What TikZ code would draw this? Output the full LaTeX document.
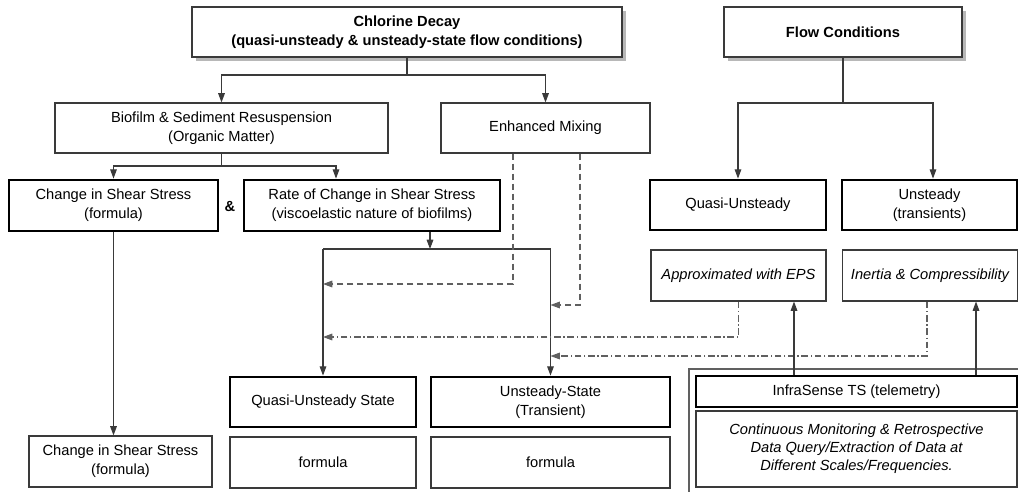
\documentclass[tikz,border=0pt]{standalone}
\usepackage{fontspec}
\setmainfont{Liberation Sans}
\usetikzlibrary{arrows.meta,shadows,calc}
\definecolor{ln}{HTML}{3A3A3A}
\definecolor{dsh}{HTML}{606060}
\begin{document}
\begin{tikzpicture}[x=0.75pt,y=-0.75pt,
  font=\fontsize{11}{14}\selectfont,
  box/.style={draw=ln,line width=0.8pt,rectangle,inner sep=0pt,align=center,fill=white},
  thickbox/.style={draw=black,line width=2.1pt,rectangle,inner sep=0pt,align=center,fill=white},
  shad/.style={drop shadow={shadow xshift=3pt,shadow yshift=-3pt,fill=black!28,opacity=1}},
  conn/.style={draw=ln,line width=0.8pt},
  arr/.style={conn,-{Triangle[length=7pt,width=5pt]}},
  dsharr/.style={draw=dsh,line width=0.8pt,dash pattern=on 4.5pt off 3pt,-{Triangle[length=7pt,width=5pt]}},
  ddarr/.style={draw=dsh,line width=0.8pt,dash pattern=on 5pt off 2pt on 1pt off 2pt,-{Triangle[length=7pt,width=5pt]}},
]
\useasboundingbox (0,0) rectangle (1018,492);
\begin{scope}
\clip (0,0) rectangle (1018,492);
% container
\draw[draw=dsh,line width=0.8pt] (689,369) rectangle (1040,510);

\node[box,shad,minimum width=430*0.75pt,minimum height=50*0.75pt] (chl) at (407,32)
  {\textbf{Chlorine Decay}\\\textbf{(quasi-unsteady \& unsteady-state flow conditions)}};
\node[box,shad,minimum width=238*0.75pt,minimum height=50*0.75pt] (flow) at (843,32)
  {\textbf{Flow Conditions}};
\node[box,minimum width=333*0.75pt,minimum height=50*0.75pt] (bio) at (221.5,128)
  {Biofilm \& Sediment Resuspension\\(Organic Matter)};
\node[box,minimum width=209*0.75pt,minimum height=50*0.75pt] (enh) at (545.5,128)
  {Enhanced Mixing};
\node[thickbox,minimum width=209*0.75pt,minimum height=51*0.75pt] (cs1) at (113.5,205.5)
  {Change in Shear Stress\\(formula)};
\node[font=\fontsize{11}{14}\selectfont\bfseries] (amp) at (230,206) {\&};
\node[thickbox,minimum width=256*0.75pt,minimum height=51*0.75pt] (rate) at (372,205.5)
  {Rate of Change in Shear Stress\\(viscoelastic nature of biofilms)};
\node[thickbox,minimum width=176*0.75pt,minimum height=50*0.75pt] (qu) at (738,205)
  {Quasi-Unsteady};
\node[thickbox,minimum width=175*0.75pt,minimum height=50*0.75pt] (uns) at (929.5,205)
  {Unsteady\\(transients)};
\node[box,minimum width=175*0.75pt,minimum height=51*0.75pt] (eps) at (738.5,275.5)
  {\itshape Approximated with EPS};
\node[box,minimum width=175*0.75pt,minimum height=51*0.75pt] (ine) at (930,275.5)
  {\itshape Inertia \& Compressibility};
\node[box,minimum width=183*0.75pt,minimum height=51*0.75pt] (cs2) at (120.5,461.5)
  {Change in Shear Stress\\(formula)};
\node[thickbox,minimum width=186*0.75pt,minimum height=50*0.75pt] (qus) at (323,402)
  {Quasi-Unsteady State};
\node[box,minimum width=186*0.75pt,minimum height=51*0.75pt] (f1) at (323,462.5)
  {formula};
\node[thickbox,minimum width=239*0.75pt,minimum height=50*0.75pt] (us) at (550.5,402)
  {Unsteady-State\\(Transient)};
\node[box,minimum width=239*0.75pt,minimum height=51*0.75pt] (f2) at (550.5,462.5)
  {formula};
\node[thickbox,minimum width=321*0.75pt,minimum height=31*0.75pt] (inf) at (856.5,391.5)
  {InfraSense TS (telemetry)};
\node[box,minimum width=321*0.75pt,minimum height=76*0.75pt,font=\fontsize{11}{13.5}\selectfont\itshape] (cont) at (856.5,449)
  {Continuous Monitoring \& Retrospective\\Data Query/Extraction of Data at\\Different Scales/Frequencies.};

% Chlorine branches
\coordinate (c1) at (407,75);
\draw[conn] (chl.south) -- (c1);
\draw[arr] (c1) -| (bio.north);
\draw[arr] (c1) -| (enh.north);
% Flow branches
\coordinate (f0) at (843,103);
\coordinate (unsin) at ($(uns.north)+(3.5,0)$);
\draw[conn] (flow.south) -- (f0);
\draw[arr] (f0) -| (qu.north);
\draw[arr] (f0) -| (unsin);
% Biofilm branches
\coordinate (b1) at (221.5,166);
\coordinate (ratein) at ($(rate.north)+(-36,0)$);
\draw[conn] (bio.south) -- (b1);
\draw[arr] (b1) -| (cs1.north);
\draw[arr] (b1) -| (ratein);
% Change -> Change
\draw[arr] (cs1.south) -- (cs1.south |- cs2.north);
% Rate -> bracket
\coordinate (brL) at (323,249);
\coordinate (brR) at (550.5,249);
\coordinate (rout) at ($(rate.south)+(58,0)$);
\coordinate (rhit) at (rout |- brL);
\draw[arr] (rout) -- (rhit);
\draw[conn] (brL) -- (brR);
\draw[arr] (brL) -- (qus.north);
\draw[arr] (brR) -- (us.north);
% Enhanced mixing dashed
\coordinate (e1) at ($(enh.south)+(-32.5,0)$);
\coordinate (e2) at ($(enh.south)+(34.5,0)$);
\draw[dsharr] (e1) |- (323,284);
\draw[dsharr] (e2) |- (550.5,305);
% EPS / Inertia dash-dot
\coordinate (i1) at ($(ine.south)+(-3,0)$);
\draw[ddarr] (eps.south) |- (323,337);
\draw[ddarr] (i1) |- (550.5,356);
% InfraSense up arrows
\draw[arr] (inf.north -| 794,0) -- (eps.south -| 794,0);
\draw[arr] (inf.north -| 976,0) -- (ine.south -| 976,0);
\end{scope}
\end{tikzpicture}
\end{document}
